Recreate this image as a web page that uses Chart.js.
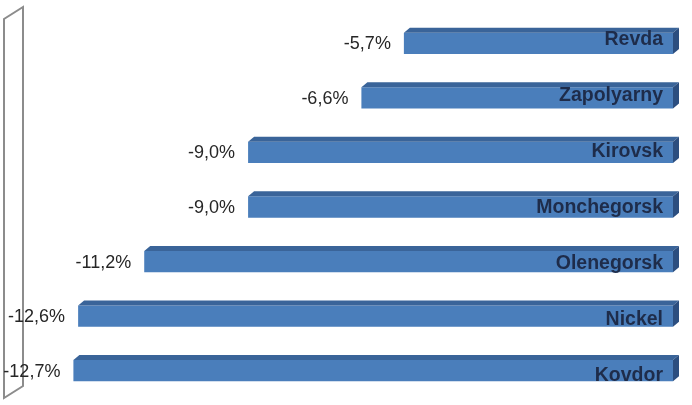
<!DOCTYPE html>
<html>
<head>
<meta charset="utf-8">
<script src="https://cdn.jsdelivr.net/npm/chart.js@4/dist/chart.umd.min.js"></script>
<style>
html,body{margin:0;padding:0;background:#fff;}
#c{display:block;}
</style>
</head>
<body>
<canvas id="c" width="692" height="405"></canvas>
<script>
const categories = ["Revda", "Zapolyarny", "Kirovsk", "Monchegorsk", "Olenegorsk", "Nickel", "Kovdor"];
const changePct = [-5.7, -6.6, -9.0, -9.0, -11.2, -12.6, -12.7];
const axisMin = -14.17;
const axisMax = 0;

const FRONT = '#4A7EBB';
const TOP = '#3A6499';
const SIDE = '#2C4E7F';
const DX = 6, DY = 5;

const wallPlugin = {
  id: 'wall',
  beforeDatasetsDraw(chart) {
    const ctx = chart.ctx;
    const xs = chart.scales.x;
    const ca = chart.chartArea;
    const x0 = xs.getPixelForValue(axisMin);
    const wdx = 19, wdy = 12;
    ctx.save();
    ctx.strokeStyle = '#8C8C8C';
    ctx.lineWidth = 2;
    ctx.lineJoin = 'miter';
    ctx.beginPath();
    ctx.moveTo(x0, ca.bottom);
    ctx.lineTo(x0, ca.top + 3);
    ctx.lineTo(x0 + wdx, ca.top + 3 - wdy);
    ctx.lineTo(x0 + wdx, ca.bottom - wdy);
    ctx.closePath();
    ctx.stroke();
    ctx.restore();
  }
};

const bar3dPlugin = {
  id: 'bar3d',
  afterDatasetsDraw(chart) {
    const ctx = chart.ctx;
    const meta = chart.getDatasetMeta(0);
    ctx.save();
    meta.data.forEach((bar, i) => {
      const left = Math.min(bar.x, bar.base);
      const right = Math.max(bar.x, bar.base);
      const top = bar.y - bar.height / 2;
      const bottom = bar.y + bar.height / 2;
      // top face
      ctx.fillStyle = TOP;
      ctx.beginPath();
      ctx.moveTo(left, top);
      ctx.lineTo(left + DX, top - DY);
      ctx.lineTo(right + DX, top - DY);
      ctx.lineTo(right, top);
      ctx.closePath();
      ctx.fill();
      // side face
      ctx.fillStyle = SIDE;
      ctx.beginPath();
      ctx.moveTo(right, top);
      ctx.lineTo(right + DX, top - DY);
      ctx.lineTo(right + DX, bottom - DY);
      ctx.lineTo(right, bottom);
      ctx.closePath();
      ctx.fill();

      // value label
      ctx.fillStyle = '#262626';
      ctx.font = '18px "Liberation Sans", Arial, sans-serif';
      ctx.textAlign = 'right';
      ctx.textBaseline = 'middle';
      const v = changePct[i];
      ctx.fillText(v.toFixed(1).replace('.', ',') + '%', left - 13, bar.y + 1);

      // category label inside bar
      ctx.fillStyle = '#1E2C4A';
      ctx.font = 'bold 19.5px "Liberation Sans", Arial, sans-serif';
      ctx.textAlign = 'right';
      ctx.textBaseline = 'alphabetic';
      ctx.fillText(categories[i], right - 10, bar.y + 2 + i * 1.3);
    });
    ctx.restore();
  }
};

new Chart(document.getElementById('c'), {
  type: 'bar',
  data: {
    labels: categories,
    datasets: [{
      data: changePct,
      backgroundColor: FRONT,
      borderWidth: 0,
      categoryPercentage: 1,
      barPercentage: 0.39
    }]
  },
  options: {
    indexAxis: 'y',
    responsive: false,
    animation: false,
    devicePixelRatio: 1,
    layout: { padding: { left: 4, right: 19, top: 16, bottom: 7 } },
    plugins: { legend: { display: false }, tooltip: { enabled: false } },
    scales: {
      x: { display: false, min: axisMin, max: axisMax },
      y: { display: false }
    }
  },
  plugins: [wallPlugin, bar3dPlugin]
});
</script>
</body>
</html>
